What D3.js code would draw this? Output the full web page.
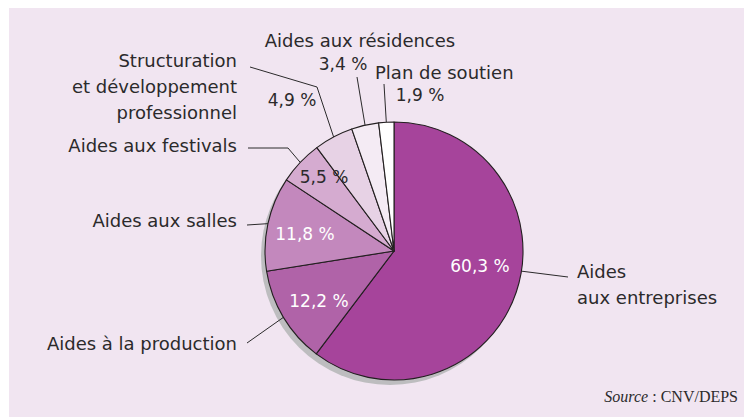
<!DOCTYPE html>
<html>
<head>
<meta charset="utf-8">
<script src="https://cdn.jsdelivr.net/npm/d3@7"></script>
<style>
  body { margin: 0; background: #fff; }
  text { font-family: "DejaVu Sans", sans-serif; fill: #2b2a2b; }
</style>
</head>
<body>
<div id="pie_chart"></div>
<script>
// data
const categories = ["Aides aux entreprises", "Aides à la production", "Aides aux salles",
    "Aides aux festivals", "Structuration et développement professionnel",
    "Aides aux résidences", "Plan de soutien"];
const values = [60.3, 12.2, 11.8, 5.5, 4.9, 3.4, 1.9];
const sliceColors = ["#a6449b", "#b063a8", "#c388bd", "#d5abd0", "#e7d2e5", "#f4ebf4", "#ffffff"];

var svgwidth = 744, svgheight = 417;
var cx = 394, cy = 251, radius = 129;
var dark = "#2b2a2b";

// where each name goes, how it wraps (words per line) and the leader's elbows
var labelLayout = [
    {x: 577, y: 278, anchor: "start", wrap: [1, 2], leader: [[568, 277]], at: 0.456},
    {x: 237, y: 350, anchor: "end", wrap: null, leader: [[247, 343]], at: 0.5},
    {x: 237, y: 227, anchor: "end", wrap: null, leader: [[247, 225]], at: 0.5},
    {x: 237, y: 152, anchor: "end", wrap: null, leader: [[248, 148], [288, 148]], at: 0.5},
    {x: 237, y: 67, anchor: "end", wrap: [1, 2, 1], leader: [[250, 67], [317, 87]], at: 0.5},
    {x: 360, y: 47, anchor: "middle", wrap: null, leader: [[357, 77]], at: 0.5},
    {x: 375, y: 79, anchor: "start", wrap: null, leader: [[384, 84]], at: 0.5}
];
// where each percentage goes
var pctLayout = [
    {x: 480, y: 272, fill: "#fff"},
    {x: 319, y: 307, fill: "#fff"},
    {x: 305, y: 240, fill: "#fff"},
    {x: 324, y: 183, fill: dark},
    {x: 292, y: 106, fill: dark},
    {x: 343, y: 70, fill: dark},
    {x: 420, y: 101, fill: dark}
];

var pctFormat = v => d3.format(".1f")(v).replace(".", ",") + " %";

var svg = d3.select("#pie_chart").append("svg")
    .attr("width", svgwidth)
    .attr("height", svgheight);

svg.append("rect")
    .attr("x", 9).attr("y", 8)
    .attr("width", svgwidth - 9).attr("height", svgheight - 8)
    .attr("fill", "#f1e5f1");

var pie = d3.pie().sort(null).value(d => d);
var arcs = pie(values);
var arc = d3.arc().innerRadius(0).outerRadius(radius);

var g = svg.append("g")
    .attr("transform", "translate(" + cx + "," + cy + ")");

// drop shadow
g.append("circle")
    .attr("cx", -4).attr("cy", 5)
    .attr("r", radius)
    .attr("fill", "#bdbdbf");

g.selectAll("path.slice")
    .data(arcs)
  .enter().append("path")
    .attr("class", "slice")
    .attr("d", arc)
    .attr("fill", (d, i) => sliceColors[i])
    .attr("stroke", "#231f20")
    .attr("stroke-width", 1.1)
    .attr("stroke-linejoin", "round");

// leaders
function edgePoint(d, t) {
    var a = d.startAngle + t * (d.endAngle - d.startAngle);
    return [cx + Math.sin(a) * radius, cy - Math.cos(a) * radius];
}
var line = d3.line();
svg.selectAll("path.leader")
    .data(arcs)
  .enter().append("path")
    .attr("class", "leader")
    .attr("d", (d, i) => line(labelLayout[i].leader.concat([edgePoint(d, labelLayout[i].at)])))
    .attr("fill", "none")
    .attr("stroke", "#2b2a2b")
    .attr("stroke-width", 1);

// names
svg.selectAll("text.name")
    .data(categories)
  .enter().append("text")
    .attr("class", "name")
    .attr("x", (d, i) => labelLayout[i].x)
    .attr("y", (d, i) => labelLayout[i].y)
    .attr("text-anchor", (d, i) => labelLayout[i].anchor)
    .style("font-size", "18px")
    .each(function(d, i) {
        var words = d.split(" ");
        var wrap = labelLayout[i].wrap || [words.length];
        var k = 0;
        var el = d3.select(this);
        wrap.forEach((n, j) => {
            el.append("tspan")
                .attr("x", labelLayout[i].x)
                .attr("dy", j === 0 ? 0 : 26)
                .text(words.slice(k, k + n).join(" "));
            k += n;
        });
    });

// percentages
svg.selectAll("text.pct")
    .data(values)
  .enter().append("text")
    .attr("class", "pct")
    .attr("x", (d, i) => pctLayout[i].x)
    .attr("y", (d, i) => pctLayout[i].y)
    .attr("text-anchor", "middle")
    .style("font-size", "17px")
    .style("fill", (d, i) => pctLayout[i].fill)
    .text(d => pctFormat(d));

// source
var src = svg.append("text")
    .attr("x", 738).attr("y", 402)
    .attr("text-anchor", "end")
    .style("font-family", "'Liberation Serif', serif")
    .style("font-size", "16px");
src.append("tspan").style("font-style", "italic").text("Source");
src.append("tspan").text(" : CNV/DEPS");
</script>
</body>
</html>
